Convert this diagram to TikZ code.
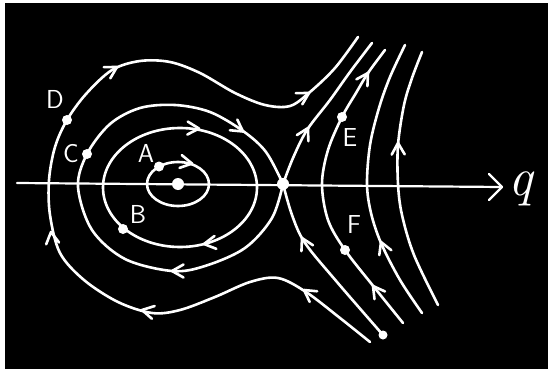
\documentclass[tikz,border=0pt]{standalone}
\usepackage{fontspec}
\begin{document}
\begin{tikzpicture}[x=1pt,y=-1pt,
  traj/.style={white, line width=2.6pt, line cap=round, line join=round},
  axisline/.style={white, line width=2.2pt, line cap=round, line join=round},
  bigdot/.style={circle, fill=white, minimum size=12pt, inner sep=0pt},
  smalldot/.style={circle, fill=white, minimum size=10pt, inner sep=0pt},
  lbl/.style={text=white, inner sep=0pt, font=\sffamily\fontsize{26}{26}\selectfont},
  chev/.pic={\draw[traj] (-11.5,6.5) -- (0,0) -- (-11.5,-6.5);},
  axtip/.pic={\draw[axisline] (-13,13) -- (0,0) -- (-13,-13);}
]
\useasboundingbox (0,0) rectangle (548,369);
\fill[white] (0,0) rectangle (548,369);
\fill[black] (5,3) rectangle (548,369);

% fixed points
\node[bigdot] (O) at (178,184) {};
\node[bigdot] (S) at (283,184) {};

% axis
\coordinate (axL) at (17,183);
\coordinate (axR) at (502,187);
\draw[axisline] (axL) -- (axR);
\pic at (axR) {axtip};
\node[text=white, anchor=base west, inner sep=0pt, font=\fontsize{54}{54}\selectfont\itshape] (q) at (508,195) {q};

% orbit A
\draw[traj] (O) ++(0,0) ellipse [x radius=31, y radius=22];
\node[smalldot] (dA) at (159,166.5) {};
\node[lbl] (lA) at (146,153) {A};
\pic[rotate=-10] at (192,163.5) {chev};

% orbit B
\draw[traj] (180,187.5) ellipse [x radius=77, y radius=59.5];
\node[smalldot] (dB) at (123,229) {};
\node[lbl] (lB) at (138,214) {B};
\pic[rotate=-2] at (199,128.5) {chev};
\pic[rotate=188] at (204,244) {chev};

% orbit C (separatrix loop)
\draw[traj] plot[smooth, tension=0.55] coordinates {(S) (272,218) (245,248) (205,266) (172,271) (125,259) (92,230) (78,187) (87,154) (110,124) (140,108) (175,105) (210,112) (243,131) (266,152) (S)};
\node[smalldot] (dC) at (87,154) {};
\node[lbl] (lC) at (71,154) {C};
\pic[rotate=-35] at (243,131.5) {chev};
\pic[rotate=180] at (172,271) {chev};

% orbit D
\draw[traj] plot[smooth, tension=0.55] coordinates {(370,342) (340,318) (306,292) (278,278) (250,282) (215,297) (180,310) (152,313) (118,302) (84,280) (60,253) (50,215) (49,180) (55,147) (67,120) (86,94) (112,70) (140,61) (170,62) (200,73) (235,93) (265,105) (290,106) (310,92) (335,68) (358,37)};
\node[smalldot] (dD) at (67,120) {};
\node[lbl] (lD) at (55,99) {D};
\pic[rotate=168] at (142,310) {chev};
\pic[rotate=98] at (51,232) {chev};
\pic[rotate=30] at (117,67) {chev};
\pic[rotate=30] at (309,93) {chev};
\pic[rotate=145] at (304,290) {chev};

% separatrices through saddle on the right
\draw[traj] plot[smooth, tension=0.55] coordinates {(S) (293,158) (307,130) (330,100) (350,72) (372,43)};
\pic[rotate=62] at (308,128) {chev};
\draw[traj] plot[smooth, tension=0.55] coordinates {(383,335) (337,282) (305,243) (292,215) (S)};
\node[smalldot, minimum size=9pt] (end) at (383,335) {};
\pic[rotate=117] at (302,238) {chev};

% orbit through E and F
\draw[traj] plot[smooth, tension=0.55] coordinates {(403,323) (374,287) (345,250) (328,220) (322,184) (328,150) (342,117) (356,93) (368,73) (385,50)};
\node[smalldot] (dE) at (342,117) {};
\node[smalldot] (dF) at (345,250) {};
\node[lbl] (lE) at (350,138) {E};
\node[lbl] (lF) at (354,225) {F};
\pic[rotate=58] at (368,73) {chev};
\pic[rotate=126] at (373,286) {chev};

% further orbits
\draw[traj] plot[smooth, tension=0.55] coordinates {(422,313) (400,280) (381,243) (371,213) (367,184) (370,145) (379,108) (390,77) (405,45)};
\pic[rotate=112] at (381,242) {chev};
\draw[traj] plot[smooth, tension=0.55] coordinates {(438,305) (414,255) (402,215) (398,184) (398,145) (404,105) (412,78) (422,52)};
\pic[rotate=91] at (398,143) {chev};
\end{tikzpicture}
\end{document}
